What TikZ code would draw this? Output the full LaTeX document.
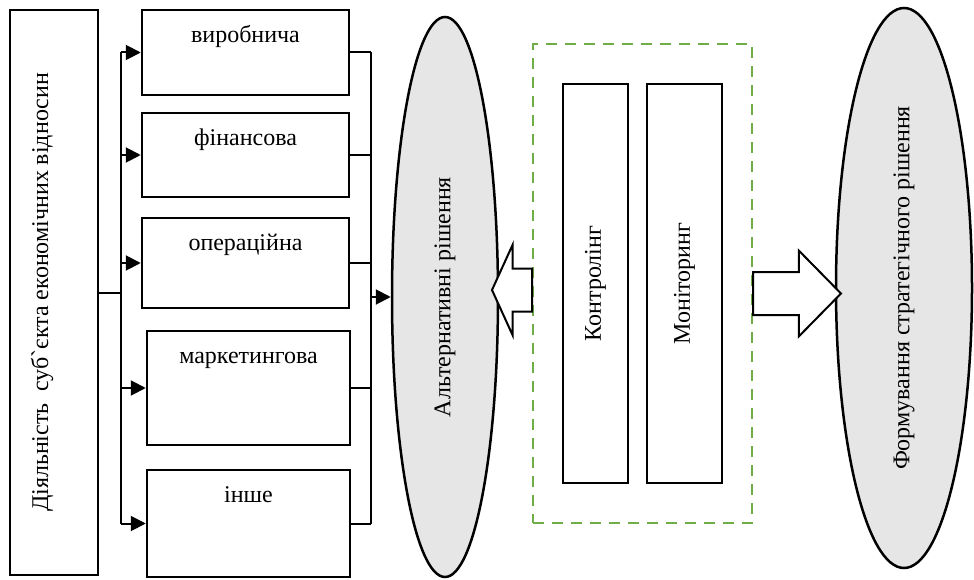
\documentclass[tikz,border=0pt]{standalone}
\usepackage{fontspec}
\setmainfont{Liberation Serif}
\usetikzlibrary{shapes.geometric,shapes.arrows,arrows.meta}
\definecolor{ovalgray}{RGB}{230,230,230}
\definecolor{framegreen}{RGB}{112,173,71}
\tikzstyle{actbox}=[draw,line width=2.5pt,minimum width=88pt,minimum height=565pt,inner sep=0pt]
\tikzstyle{kind}=[draw,line width=2.5pt,inner sep=0pt]
\tikzstyle{kindlabel}=[anchor=north,text height=17pt,inner sep=3pt,yshift=-14pt]
\tikzstyle{oval}=[ellipse,draw,line width=2.5pt,fill=ovalgray,inner sep=0pt]
\tikzstyle{uptext}=[rotate=90,inner sep=0pt]
\tikzstyle{tool}=[draw,line width=2.5pt,minimum height=399pt,inner sep=0pt]
\tikzstyle{dashframe}=[draw=framegreen,line width=2.5pt,dash pattern=on 11pt off 8pt,minimum width=219pt,minimum height=479pt,inner sep=0pt]
\tikzstyle{feed}=[line width=2pt,-{Triangle[length=15pt,width=15pt]}]
\tikzstyle{wire}=[line width=2pt]
\tikzstyle{fatarrow}=[single arrow,draw,line width=2pt,fill=white,inner xsep=0pt,inner ysep=20.5pt,anchor=tail]

\begin{document}
\begin{tikzpicture}[x=1pt,y=-1pt,font=\fontsize{24}{28}\selectfont]
    \useasboundingbox (0,0) rectangle (974,580);
    \node[actbox,label={[uptext,text height=17pt,text depth=29pt]center:Діяльність\ \ суб\textasciigrave єкта економічних відносин}] (act) at (54,292.5) {};
    \node[kind,minimum width=207pt,minimum height=85pt,label={[kindlabel]north:виробнича}] (prod) at (245.5,52.5) {};
    \node[kind,minimum width=207pt,minimum height=84pt,label={[kindlabel]north:фінансова}] (fin) at (245.5,155) {};
    \node[kind,minimum width=207pt,minimum height=90pt,label={[kindlabel]north:операційна}] (oper) at (245.5,263) {};
    \node[kind,minimum width=203pt,minimum height=114pt,label={[kindlabel]north:маркетингова}] (mark) at (248.5,388) {};
    \node[kind,minimum width=203pt,minimum height=107pt,label={[kindlabel]north:інше}] (other) at (248.5,523.5) {};
    \node[oval,minimum width=106pt,minimum height=560pt,label={[uptext]center:Альтернативні рішення}] (alt) at (445,297) {};
    \node[dashframe] (watch) at (642.5,283.5) {};
    \node[tool,minimum width=65pt,label={[uptext]center:Контролінг}] (ctrl) at (595.5,283.5) {};
    \node[tool,minimum width=75pt,label={[uptext]center:Моніторинг}] (moni) at (684.5,283.5) {};
    \node[oval,minimum width=136pt,minimum height=560pt,label={[uptext]center:Формування стратегічного рішення}] (strat) at (904,288) {};
    \node[fatarrow,shape border rotate=180,minimum height=40pt,single arrow head extend=23.5pt,single arrow tip angle=131] (back) at (533,290) {};
    \node[fatarrow,minimum height=88pt,single arrow head extend=21.5pt,single arrow tip angle=91] (fwd) at (752,293.5) {};
    \coordinate (tl) at (121,0);
    \coordinate (tr) at (371,0);
    \draw[wire] (act.east) -- (tl |- act.east);
    \draw[wire] (tl |- prod.west) -- (tl |- other.west);
    \foreach \b in {prod,fin,oper,mark,other}
        \draw[feed] (tl |- \b.west) -- (\b.west);
    \foreach \b in {prod,fin,oper,mark,other}
        \draw[wire] (\b.east) -- (tr |- \b.east);
    \draw[wire] (tr |- prod.east) -- (tr |- other.east);
    \draw[feed] (tr |- alt.west) -- (alt.west);
\end{tikzpicture}
\end{document}
